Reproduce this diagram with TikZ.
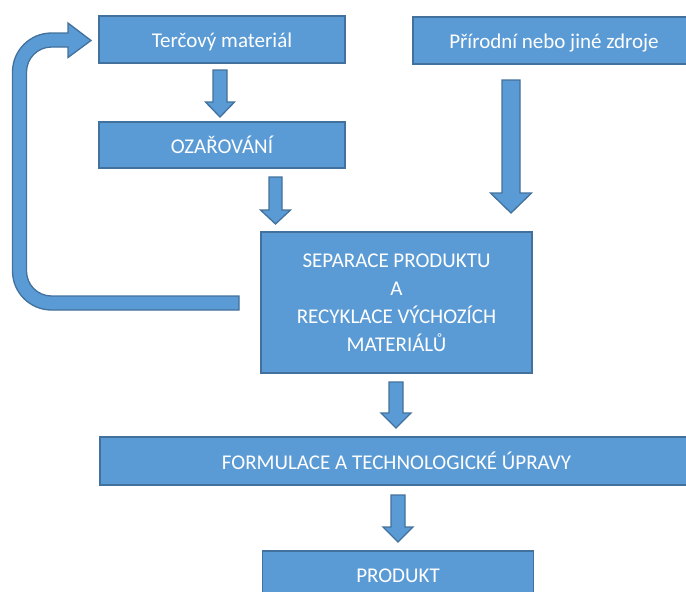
\documentclass[tikz,border=0pt]{standalone}
\usepackage{fontspec}
\setmainfont{Carlito}
\definecolor{boxblue}{HTML}{5B9BD5}
\definecolor{boxedge}{HTML}{41719C}
\tikzset{
  flowbox/.style={draw=boxedge, fill=boxblue, line width=1.5pt, rectangle, inner sep=0pt,
    text=white, font=\fontsize{21}{28}\selectfont, text height=16pt, text depth=0pt, align=center},
  blockarrow/.style={draw=boxedge, fill=boxblue, line width=1.3pt, line join=miter},
}
% x, shaft half-width, head half-width, top, head start, tip
\newcommand{\blockdown}[6]{%
  \draw[blockarrow] (#1-#2,#4) -- (#1+#2,#4) -- (#1+#2,#5) -- (#1+#3,#5) -- (#1,#6)
    -- (#1-#3,#5) -- (#1-#2,#5) -- cycle;}
\begin{document}
\begin{tikzpicture}[x=1pt,y=-1pt]
\useasboundingbox (0,0) rectangle (686,592);
\clip (0,0) rectangle (686,592);
% boxes
\node[flowbox, minimum width=246pt, minimum height=47pt] (terc) at (222,39.5) {Terčový materiál};
\node[flowbox, minimum width=246pt, minimum height=46pt] (ozar) at (222,145) {OZAŘOVÁNÍ};
\node[flowbox, minimum width=282pt, minimum height=47pt] (prir) at (554,40.5) {Přírodní nebo jiné zdroje};
\node[flowbox, minimum width=271pt, minimum height=141pt, text height=, text depth=] (sep) at (396.5,302.5)
  {SEPARACE PRODUKTU\\A\\RECYKLACE VÝCHOZÍCH\\MATERIÁLŮ};
\node[flowbox, minimum width=593pt, minimum height=48pt] (form) at (396.5,461) {FORMULACE A TECHNOLOGICKÉ ÚPRAVY};
\node[flowbox, minimum width=271pt, minimum height=100pt, anchor=north] (prod) at (398,550) {};
\node[text=white, font=\fontsize{21}{28}\selectfont, anchor=base] (prodt) at (398,582) {PRODUKT};
% block arrows
\blockdown{220}{7}{14.5}{70}{102}{117}
\blockdown{275.5}{6.5}{15}{177}{210}{224}
\blockdown{511}{9}{20.5}{80}{193}{213}
\blockdown{396}{7}{15}{382}{413}{428}
\blockdown{398}{7}{15}{495}{527}{542}
% loop arrow
\coordinate (loopend) at (239,303);
\draw[blockarrow] (239,296) -- (51.5,296) arc[start angle=90, end angle=180, radius=25]
  -- (26.5,72) arc[start angle=180, end angle=270, radius=25]
  -- (68,47) -- (68,57.5) -- (91,40.5) -- (68,23) -- (68,33) -- (51.5,33)
  arc[start angle=270, end angle=180, radius=39]
  -- (12.5,271) arc[start angle=180, end angle=90, radius=39]
  -- (239,310) -- cycle;
\end{tikzpicture}
\end{document}
